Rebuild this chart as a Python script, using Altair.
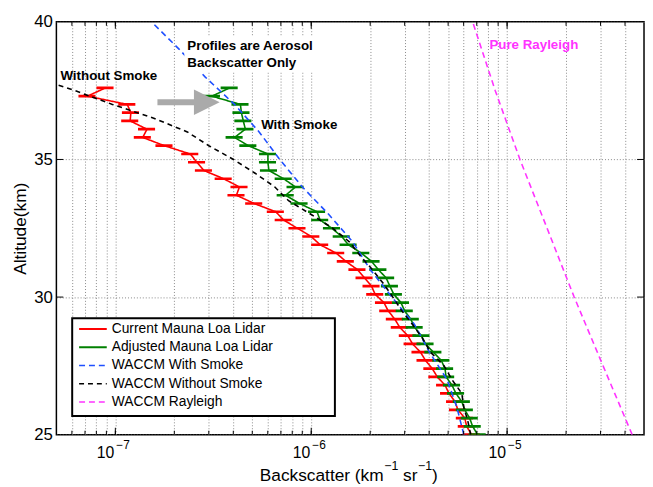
import altair as alt
import pandas as pd

# ---------------- data ----------------
lidar_alt = [25.0, 25.3, 25.6, 25.9, 26.2, 26.5, 26.8, 27.1, 27.4, 27.7,
             28.0, 28.3, 28.6, 28.9, 29.2, 29.5, 29.8, 30.1, 30.4, 30.7,
             31.0, 31.3, 31.6, 31.9, 32.2, 32.5, 32.8, 33.1, 33.4, 33.7,
             34.0, 34.3, 34.6, 34.9, 35.2, 35.5, 35.8, 36.1, 36.4, 36.7,
             37.0, 37.3, 37.6]
red_vals = [6.59e-6, 6.22e-6, 6.08e-6, 5.61e-6, 5.42e-6, 5.05e-6, 4.82e-6, 4.40e-6, 4.15e-6, 3.83e-6,
            3.61e-6, 3.29e-6, 3.11e-6, 2.83e-6, 2.67e-6, 2.47e-6, 2.35e-6, 2.12e-6, 2.03e-6, 1.87e-6,
            1.72e-6, 1.50e-6, 1.34e-6, 1.11e-6, 1.00e-6, 8.50e-7, 7.23e-7, 6.59e-7, 5.11e-7, 4.15e-7,
            4.30e-7, 3.57e-7, 2.83e-7, 2.61e-7, 2.41e-7, 1.78e-7, 1.38e-7, 1.45e-7, 1.19e-7, 1.20e-7,
            1.15e-7, 7.2e-8, 8.9e-8]
green_vals = [7.07e-6, 6.67e-6, 6.44e-6, 6.08e-6, 5.87e-6, 5.48e-6, 5.23e-6, 4.88e-6, 4.82e-6, 4.61e-6,
              4.20e-6, 3.83e-6, 3.65e-6, 3.37e-6, 3.22e-6, 3.00e-6, 2.87e-6, 2.64e-6, 2.52e-6, 2.41e-6,
              2.20e-6, 2.03e-6, 1.80e-6, 1.55e-6, 1.43e-6, 1.275e-6, 1.11e-6, 1.07e-6, 8.71e-7, 7.40e-7,
              8.31e-7, 7.23e-7, 6.08e-7, 6.01e-7, 6.01e-7, 4.77e-7, 4.06e-7, 4.61e-7, 4.50e-7, 4.40e-7,
              4.35e-7, 3.11e-7, 3.83e-7]
rel_err = 0.1

blue_alt = [25, 26, 27, 28, 29, 30, 31, 32, 33, 34, 35, 36, 37, 38, 39, 40]
blue_vals = [6.01e-6, 5.54e-6, 4.94e-6, 4.01e-6, 3.37e-6, 2.58e-6, 2.00e-6, 1.63e-6, 1.23e-6, 9.01e-7,
             6.91e-7, 5.42e-7, 4.06e-7, 2.87e-7, 2.12e-7, 1.53e-7]

black_alt = [25, 25.5, 26, 26.5, 27, 27.5, 28, 28.5, 29, 29.5, 30, 30.5, 31, 31.5, 32, 32.5,
             33, 33.5, 34, 34.5, 35, 35.5, 36, 36.5, 37, 37.5, 37.72]
black_vals = [6.52e-6, 6.30e-6, 6.01e-6, 5.87e-6, 5.23e-6, 4.77e-6, 4.06e-6, 3.70e-6, 3.29e-6, 2.90e-6,
              2.61e-6, 2.33e-6, 2.05e-6, 1.78e-6, 1.57e-6, 1.29e-6, 1.00e-6, 7.66e-7, 6.52e-7, 5.17e-7,
              4.01e-7, 3.00e-7, 2.33e-7, 1.57e-7, 9.66e-8, 6.22e-8, 5.0e-8]

mag_alt = [25, 27.5, 30, 32.5, 35, 37.5, 40]
mag_vals = [4.35e-5, 3.09e-5, 2.20e-5, 1.60e-5, 1.163e-5, 8.70e-6, 6.67e-6]

series_names = ["Current Mauna Loa Lidar", "Adjusted Mauna Loa Lidar", "WACCM With Smoke",
                "WACCM Without Smoke", "WACCM Rayleigh"]
series_colors = ["#ff0000", "#008000", "#1f4fff", "#000000", "#ff33ff"]
series_dash = [[1, 0], [1, 0], [6, 4], [5, 4], [6, 4]]

grid_x = [6e-8, 7e-8, 8e-8, 9e-8, 1e-7, 2e-7, 3e-7, 4e-7, 5e-7, 6e-7, 7e-7, 8e-7, 9e-7, 1e-6,
          2e-6, 3e-6, 4e-6, 5e-6, 6e-6, 7e-6, 8e-6, 9e-6, 1e-5, 2e-5, 3e-5, 4e-5]
decades = [1e-7, 1e-6, 1e-5]
decade_exp = ["\u22127", "\u22126", "\u22125"]
y_ticks = [25, 30, 35, 40]

x_title_parts = ["Backscatter (km", "\u22121", " sr", "\u22121", ")"]
x_title_sup = [False, True, False, True, False]
y_title = "Altitude(km)"

notes_text = ["Without Smoke", "Profiles are Aerosol", "Backscatter Only", "With Smoke", "Pure Rayleigh"]
notes_x = [5.24e-8, 2.33e-7, 2.33e-7, 5.55e-7, 8.12e-6]
notes_y = [38.03, 39.13, 38.50, 36.26, 39.16]
notes_color = ["#000000", "#000000", "#000000", "#000000", "#ff33ff"]
notes_bg_x = [2.25e-7, 1.06e-6]
notes_bg_y = [38.17, 39.45]

arrow_x = [1.64e-7, 2.60e-7]
arrow_head_x = [2.93e-7]
arrow_y = [37.08]

# ---------------- chart ----------------
W, H = 595, 418
FONT = "Liberation Sans"
TFS = 17.5   # title font size
SFS = 12.5   # superscript font size
xscale = alt.Scale(type="log", domain=[5e-8, 5e-5], nice=False)
yscale = alt.Scale(domain=[25, 40], nice=False)

x_axis = alt.Axis(values=grid_x, grid=True, gridDash=[1, 2], gridColor="#888888", gridWidth=1,
                  labels=False, ticks=False, domain=False, title=None)
y_axis = alt.Axis(values=y_ticks, grid=True, gridDash=[1, 2], gridColor="#888888", gridWidth=1,
                  ticks=False, domain=False, labelFont=FONT, labelFontSize=17, labelColor="black",
                  labelPadding=4, title=y_title, titleFont=FONT, titleFontSize=TFS,
                  titleFontWeight="normal", titleColor="black", titleX=-36, titleY=H / 2,
                  titleAngle=-90, titleBaseline="middle", titleAlign="center")


def df(alts, vals):
    return pd.DataFrame({"alt": alts, "val": vals})


red_df = df(lidar_alt, red_vals)
green_df = df(lidar_alt, green_vals)


def xe(field="val:Q"):
    return alt.X(field, scale=xscale, axis=x_axis)


def ye(field="alt:Q"):
    return alt.Y(field, scale=yscale, axis=y_axis)


def err_layer(d, color):
    return alt.Chart(d).transform_calculate(
        lo=f"datum.val*{1 - rel_err}", hi=f"datum.val*{1 + rel_err}"
    ).mark_rule(color=color, strokeWidth=2.7, clip=True).encode(
        x=xe("lo:Q"), x2="hi:Q", y=ye())


def line_layer(d, color, dash, width):
    return alt.Chart(d).mark_line(color=color, strokeWidth=width, strokeDash=dash, clip=True).encode(
        x=xe(), y=ye(), order="alt:Q")


layers = [
    line_layer(red_df, series_colors[0], series_dash[0], 1.6),
    err_layer(red_df, series_colors[0]),
    err_layer(green_df, series_colors[1]),
    line_layer(green_df, series_colors[1], series_dash[1], 1.6),
    line_layer(df(blue_alt, blue_vals), series_colors[2], series_dash[2], 1.6),
    line_layer(df(black_alt, black_vals), series_colors[3], series_dash[3], 1.6),
    line_layer(df(mag_alt, mag_vals), series_colors[4], series_dash[4], 1.6),
]

# inward ticks
tick_df = pd.DataFrame({"v": grid_x})
dec_df = pd.DataFrame({"v": decades, "e": decade_exp})
for y0, y1 in [(H, H - 4), (0, 4)]:
    layers.append(alt.Chart(tick_df).mark_rule(color="black", strokeWidth=1).encode(
        x=xe("v:Q"), y=alt.value(y0), y2=alt.value(y1)))
for y0, y1 in [(H, H - 7), (0, 7)]:
    layers.append(alt.Chart(dec_df).mark_rule(color="black", strokeWidth=1).encode(
        x=xe("v:Q"), y=alt.value(y0), y2=alt.value(y1)))
ytick_df = pd.DataFrame({"a": y_ticks[1:3]})
for x0, x1 in [(0, 7), (W, W - 7)]:
    layers.append(alt.Chart(ytick_df).mark_rule(color="black", strokeWidth=1).encode(
        y=ye("a:Q"), x=alt.value(x0), x2=alt.value(x1)))

# x tick labels 10^n
layers.append(alt.Chart(dec_df).mark_text(text="10", font=FONT, fontSize=16, align="right",
                                          baseline="middle", dx=-1, color="black").encode(
    x=xe("v:Q"), y=alt.value(H + 19)))
layers.append(alt.Chart(dec_df).mark_text(font=FONT, fontSize=12, align="left",
                                          baseline="middle", dx=1, color="black").encode(
    x=xe("v:Q"), y=alt.value(H + 11), text="e:N"))

# x axis title with real superscripts (Arial/Liberation advance widths, em units)
char_w = {"B": .667, "a": .556, "c": .5, "k": .5, "s": .5, "t": .278, "e": .556, "r": .333,
          " ": .278, "(": .333, ")": .333, "m": .833, "\u2212": .584, "1": .556}
tx = 206.0
for part, sup in zip(x_title_parts, x_title_sup):
    fs = SFS if sup else TFS
    stripped = part.lstrip(" ")
    tx += (len(part) - len(stripped)) * char_w[" "] * fs
    one = pd.DataFrame({"t": [stripped]})
    layers.append(alt.Chart(one).mark_text(font=FONT, fontSize=fs, align="left",
                                           baseline="alphabetic", color="black").encode(
        x=alt.value(tx + (0.5 if sup else 0)), y=alt.value(H + (36 if sup else 47)), text="t:N"))
    tx += sum(char_w.get(ch, .556) for ch in stripped) * fs + (0.5 if sup else 0)

# white background behind the "Profiles are Aerosol" note
bg_df = pd.DataFrame({"x1": [notes_bg_x[0]], "x2": [notes_bg_x[1]],
                      "y1": [notes_bg_y[0]], "y2": [notes_bg_y[1]]})
layers.append(alt.Chart(bg_df).mark_rect(color="white").encode(
    x=xe("x1:Q"), x2="x2:Q", y=ye("y1:Q"), y2="y2:Q"))

# annotations
notes_df = pd.DataFrame({"t": notes_text, "x": notes_x, "y": notes_y, "c": notes_color})
layers.append(alt.Chart(notes_df).mark_text(font=FONT, fontSize=13.5, fontWeight="bold",
                                            align="left", baseline="middle").encode(
    x=xe("x:Q"), y=ye("y:Q"), text="t:N", color=alt.Color("c:N", scale=None)))

# grey arrow
arr_df = pd.DataFrame({"x1": [arrow_x[0]], "x2": [arrow_x[1]], "y": arrow_y})
layers.append(alt.Chart(arr_df).mark_rule(color="#aaaaaa", strokeWidth=6).encode(
    x=xe("x1:Q"), x2="x2:Q", y=ye("y:Q")))
head_df = pd.DataFrame({"x": arrow_head_x, "y": arrow_y})
layers.append(alt.Chart(head_df).mark_point(shape="M-1,-1L1,0L-1,1Z", filled=True, size=26 * 26,
                                            color="#aaaaaa", opacity=1, strokeWidth=0).encode(
    x=xe("x:Q"), y=ye("y:Q")))

# legend box
LX0, LX1, LY0, LY1 = 16, 282, 300, 399
layers.append(alt.Chart(pd.DataFrame({"a": [0]})).mark_rect(fill="white", stroke="black",
                                                           strokeWidth=2).encode(
    x=alt.value(LX0), x2=alt.value(LX1), y=alt.value(LY0), y2=alt.value(LY1)))
for i, (name, col, dash) in enumerate(zip(series_names, series_colors, series_dash)):
    ry = 311 + i * 18.5
    one = pd.DataFrame({"t": [name]})
    layers.append(alt.Chart(one).mark_rule(color=col, strokeWidth=2 if i < 2 else 1.6,
                                           strokeDash=dash).encode(
        x=alt.value(23), x2=alt.value(51), y=alt.value(ry)))
    layers.append(alt.Chart(one).mark_text(font=FONT, fontSize=14, align="left", baseline="middle",
                                           color="black").encode(
        x=alt.value(56), y=alt.value(ry), text="t:N"))

chart = alt.layer(*layers).properties(
    width=W, height=H,
    autosize=alt.AutoSizeParams(type="none"),
    padding={"left": 49, "top": 11, "right": 1, "bottom": 54},
).configure_view(stroke="black", strokeWidth=1.5)

chart.save("out.html", embed_options={"renderer": "svg", "actions": False})
